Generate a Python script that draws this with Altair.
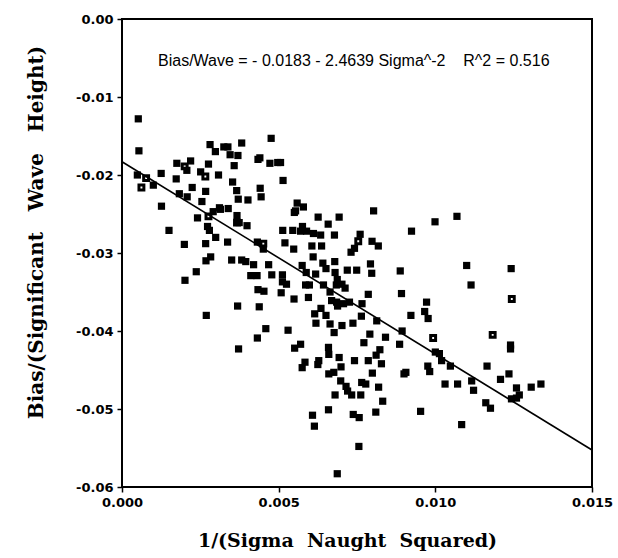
import altair as alt
import pandas as pd

# Filled observations (x = 1/sigma0^2, y = bias / significant wave height)
filled_x = [0.00052,0.00054,0.00049,0.00100,0.00125,0.00126,0.00150,0.00175,0.00173,0.00183,
0.00199,0.00201,0.00207,0.00208,0.00219,0.00224,0.00237,0.00241,0.00251,0.00255,
0.00269,0.00267,0.00268,0.00267,0.00273,0.00279,0.00281,0.00276,0.00283,0.00291,
0.00299,0.00298,0.00308,0.00311,0.00314,0.00325,0.00337,0.00339,0.00338,0.00345,
0.00350,0.00353,0.00358,0.00369,0.00366,0.00372,0.00367,0.00374,0.00370,0.00371,
0.00382,0.00382,0.00395,0.00399,0.00402,0.00411,0.00420,0.00432,0.00431,0.00432,
0.00434,0.00438,0.00434,0.00440,0.00441,0.00444,0.00451,0.00453,0.00459,0.00468,
0.00472,0.00478,0.00476,0.00497,0.00508,0.00506,0.00512,0.00512,0.00513,0.00514,
0.00520,0.00525,0.00530,0.00545,0.00549,0.00551,0.00548,0.00550,0.00554,0.00559,
0.00570,0.00575,0.00570,0.00576,0.00575,0.00584,0.00579,0.00586,0.00588,0.00589,
0.00595,0.00598,0.00608,0.00614,0.00606,0.00610,0.00611,0.00615,0.00619,0.00618,
0.00625,0.00628,0.00626,0.00635,0.00634,0.00637,0.00641,0.00643,0.00651,0.00651,
0.00659,0.00660,0.00659,0.00660,0.00658,0.00664,0.00664,0.00669,0.00676,0.00677,
0.00680,0.00687,0.00678,0.00679,0.00680,0.00684,0.00685,0.00688,0.00687,0.00693,
0.00698,0.00699,0.00693,0.00702,0.00702,0.00707,0.00715,0.00712,0.00720,0.00719,
0.00726,0.00733,0.00738,0.00731,0.00737,0.00742,0.00742,0.00756,0.00757,0.00749,
0.00762,0.00765,0.00760,0.00764,0.00766,0.00772,0.00778,0.00786,0.00786,0.00791,
0.00799,0.00793,0.00797,0.00798,0.00810,0.00803,0.00811,0.00813,0.00819,0.00818,
0.00823,0.00828,0.00832,0.00841,0.00886,0.00888,0.00892,0.00894,0.00900,0.00906,
0.00922,0.00924,0.00953,0.00966,0.00972,0.00977,0.00976,0.00982,0.01000,0.00999,
0.01013,0.01020,0.01031,0.01048,0.01071,0.01069,0.01084,0.01100,0.01114,0.01116,
0.01122,0.01161,0.01165,0.01176,0.01208,0.01235,0.01240,0.01240,0.01242,0.01243,
0.01259,0.01259,0.01268,0.01306,0.01337]
filled_y = [-0.0128,-0.0169,-0.0200,-0.0213,-0.0198,-0.0240,-0.0271,-0.0185,-0.0205,-0.0224,
-0.0289,-0.0335,-0.0194,-0.0228,-0.0182,-0.0216,-0.0324,-0.0255,-0.0196,-0.0234,
-0.0380,-0.0288,-0.0310,-0.0221,-0.0266,-0.0271,-0.0161,-0.0186,-0.0305,-0.0247,
-0.0280,-0.0170,-0.0200,-0.0242,-0.0244,-0.0164,-0.0286,-0.0243,-0.0164,-0.0174,
-0.0309,-0.0209,-0.0188,-0.0368,-0.0220,-0.0423,-0.0252,-0.0261,-0.0175,-0.0231,
-0.0309,-0.0159,-0.0311,-0.0265,-0.0232,-0.0329,-0.0315,-0.0409,-0.0329,-0.0286,
-0.0347,-0.0369,-0.0180,-0.0178,-0.0217,-0.0228,-0.0295,-0.0349,-0.0397,-0.0315,
-0.0185,-0.0328,-0.0153,-0.0184,-0.0351,-0.0184,-0.0328,-0.0337,-0.0271,-0.0207,
-0.0287,-0.0340,-0.0399,-0.0271,-0.0359,-0.0422,-0.0295,-0.0248,-0.0246,-0.0236,
-0.0417,-0.0447,-0.0272,-0.0266,-0.0316,-0.0440,-0.0241,-0.0341,-0.0325,-0.0272,
-0.0357,-0.0341,-0.0508,-0.0522,-0.0291,-0.0305,-0.0275,-0.0378,-0.0390,-0.0327,
-0.0443,-0.0438,-0.0254,-0.0371,-0.0277,-0.0291,-0.0313,-0.0341,-0.0380,-0.0320,
-0.0501,-0.0455,-0.0421,-0.0430,-0.0263,-0.0391,-0.0350,-0.0361,-0.0453,-0.0402,
-0.0482,-0.0583,-0.0277,-0.0311,-0.0325,-0.0341,-0.0363,-0.0368,-0.0334,-0.0434,
-0.0464,-0.0446,-0.0254,-0.0393,-0.0340,-0.0365,-0.0471,-0.0345,-0.0477,-0.0322,
-0.0363,-0.0482,-0.0507,-0.0299,-0.0390,-0.0438,-0.0294,-0.0548,-0.0511,-0.0322,
-0.0482,-0.0466,-0.0276,-0.0381,-0.0365,-0.0415,-0.0468,-0.0438,-0.0353,-0.0404,
-0.0454,-0.0314,-0.0326,-0.0285,-0.0504,-0.0246,-0.0431,-0.0387,-0.0472,-0.0291,
-0.0424,-0.0442,-0.0490,-0.0408,-0.0417,-0.0323,-0.0352,-0.0400,-0.0455,-0.0453,
-0.0380,-0.0272,-0.0503,-0.0375,-0.0363,-0.0384,-0.0445,-0.0452,-0.0427,-0.0260,
-0.0429,-0.0438,-0.0468,-0.0445,-0.0468,-0.0253,-0.0520,-0.0316,-0.0341,-0.0464,
-0.0476,-0.0492,-0.0445,-0.0499,-0.0462,-0.0455,-0.0418,-0.0423,-0.0320,-0.0487,
-0.0473,-0.0486,-0.0482,-0.0472,-0.0468]

# Hollow-looking observations
open_x = [0.00062,0.00077,0.00200,0.00266,0.00276,0.00367,0.00451,0.00754,0.00993,0.01183,0.01244]
open_y = [-0.0216,-0.0204,-0.0189,-0.0202,-0.0253,-0.0261,-0.0288,-0.0285,-0.0409,-0.0405,-0.0359]

# Regression: Bias/Wave = -0.0183 - 2.4639 * Sigma^-2
intercept = -0.0183
slope = -2.4639
fit_x = [0.0, 0.015]

x_ticks = [0.0, 0.005, 0.010, 0.015]
y_ticks = [0.0, -0.01, -0.02, -0.03, -0.04, -0.05, -0.06]

nb = "\u00a0"
annotation = "Bias/Wave = - 0.0183 - 2.4639 Sigma^-2" + nb * 4 + "R^2 = 0.516"

df_f = pd.DataFrame({"x": filled_x, "y": filled_y})
df_o = pd.DataFrame({"x": open_x, "y": open_y})
df_fit = pd.DataFrame({"x": fit_x, "y": [intercept + slope * v for v in fit_x]})

xscale = alt.Scale(domain=[0, 0.015], nice=False, zero=False)
yscale = alt.Scale(domain=[-0.06, 0.0], nice=False, zero=False)

xaxis = alt.Axis(
    values=x_ticks, format=".3f", title="1/(Sigma" + nb * 2 + "Naught" + nb * 2 + "Squared)",
    grid=False, tickSize=5, tickColor="black", tickWidth=1.5, domain=False,
    labelFont="DejaVu Sans", labelFontWeight="bold", labelFontSize=13, labelColor="black",
    labelPadding=4, labelFlush=False,
    titleFont="DejaVu Serif", titleFontWeight="bold", titleFontSize=19, titleColor="black",
    titleX=225, titleY=53, titleBaseline="middle", titleAlign="center",
)
yaxis = alt.Axis(
    values=y_ticks, labelExpr="(datum.value < 0 ? '-' : '') + format(abs(datum.value), '.2f')",
    title="Bias/(Significant" + nb * 3 + "Wave" + nb * 3 + "Height)",
    grid=False, tickSize=5, tickColor="black", tickWidth=1.5, domain=False,
    labelFont="DejaVu Sans", labelFontWeight="bold", labelFontSize=13, labelColor="black",
    labelPadding=4, labelFlush=False,
    titleFont="DejaVu Serif", titleFontWeight="bold", titleFontSize=20, titleColor="black",
    titleX=-86, titleY=213, titleBaseline="middle", titleAlign="center", titleAngle=270,
)

pts = alt.Chart(df_f).mark_square(size=52, color="black", opacity=1).encode(
    x=alt.X("x:Q", scale=xscale, axis=xaxis),
    y=alt.Y("y:Q", scale=yscale, axis=yaxis),
)
opn = alt.Chart(df_o).mark_point(shape="square", filled=False, size=24, stroke="black",
                                 strokeWidth=3, opacity=1).encode(
    x=alt.X("x:Q", scale=xscale), y=alt.Y("y:Q", scale=yscale)
)
fit = alt.Chart(df_fit).mark_line(color="black", strokeWidth=1.6).encode(
    x=alt.X("x:Q", scale=xscale), y=alt.Y("y:Q", scale=yscale)
)
txt = alt.Chart(pd.DataFrame({"t": [annotation]})).mark_text(
    align="left", baseline="alphabetic", font="Liberation Sans", fontSize=16, color="black"
).encode(text="t:N", x=alt.value(36), y=alt.value(47))

chart = alt.layer(fit, pts, opn, txt).properties(
    width=470, height=468,
    autosize=alt.AutoSizeParams(type="none"),
    padding={"left": 122, "top": 19, "right": 26, "bottom": 71},
    background="white",
).configure_view(stroke="black", strokeWidth=2)

chart.save("out.html", embed_options={"renderer": "svg", "actions": False})
